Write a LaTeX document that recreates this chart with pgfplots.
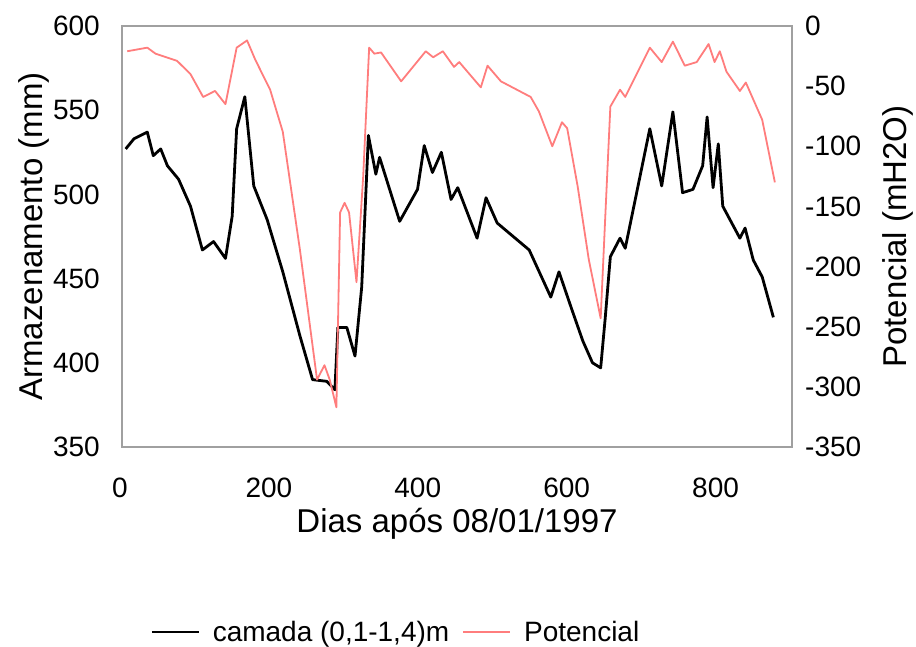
\documentclass[border=0pt]{standalone}
\usepackage{pgfplots}
\pgfplotsset{compat=1.18}
\usepackage{fontspec}
\setmainfont{Liberation Sans}
\definecolor{axgray}{RGB}{160,160,160}
\definecolor{potred}{RGB}{255,125,125}
\pgfplotstableread{
x y
5 527
16 533
34 537
42 523
52 527
61 517
76 509
92 493
108 467
123 472
139 462
148 487
154 539
165 558
177 505
195 485
216 454
239 416
256 390
275 389
286 384
290 421
302 421
313 404
322 445
331 535
341 512
346 522
373 484
397 503
406 529
417 513
429 525
442 497
451 504
477 474
489 498
504 483
547 467
576 439
587 454
604 432
619 413
632 400
643 397
649 426
656 463
669 474
676 468
709 539
725 505
740 549
753 501
767 503
780 517
786 546
794 504
801 530
807 493
830 474
837 480
848 461
860 451
875 427
}\storage
\pgfplotstableread{
x y
7 -21
34 -18
45 -23
74 -29
92 -40
109 -59
125 -54
139 -65
154 -18
168 -12
179 -28
199 -53
216 -88
239 -186
262 -294
272 -282
279 -294
288 -317
293 -155
299 -147
305 -155
315 -213
324 -125
332 -18
339 -23
348 -22
375 -46
408 -21
418 -26
431 -21
446 -34
453 -30
482 -51
491 -33
509 -46
549 -59
560 -71
578 -100
591 -80
598 -85
612 -133
627 -194
643 -243
649 -161
656 -67
669 -53
676 -59
709 -18
725 -30
740 -13
756 -33
772 -30
788 -15
796 -30
803 -21
812 -38
830 -54
838 -47
860 -78
877 -130
}\potential
\begin{document}
\begin{tikzpicture}[x=1pt,y=1pt]
\useasboundingbox (0,0) rectangle (916,646);
\pgfplotsset{
  common/.style={
    scale only axis, width=670pt, height=421pt,
    at={(122pt,199pt)}, anchor=south west,
    xmin=0, xmax=900,
    major tick length=0pt,
    /pgf/number format/assume math mode=true,
    tick label style={font=\fontsize{28}{32}\selectfont, inner sep=0pt},
    label style={font=\fontsize{33}{38}\selectfont, inner sep=0pt},
    axis line style={draw=axgray, line width=2.5pt},
  }
}
\begin{axis}[common,
  ymin=350, ymax=600, ytick={350,400,...,600},
  xtick={0,200,400,600,800},
  yticklabel style={anchor=east, xshift=-22pt},
  xticklabel style={anchor=north, yshift=-31pt, xshift=-2pt},
  xlabel={Dias após 08/01/1997},
  xlabel style={at={(axis description cs:0.5,-0.2019)}, anchor=base},
  ylabel={Armazenamento (mm)},
  ylabel style={at={(axis description cs:-0.118,0.5)}, anchor=base},
]
\addplot[black, line width=2.8pt, line join=round] table[x=x,y=y]{\storage};
\end{axis}
\begin{axis}[common,
  axis x line=none, axis y line*=right,
  ymin=-350, ymax=0, ytick={-350,-300,...,0},
  yticklabel style={anchor=west, xshift=13pt},
  ylabel={Potencial (mH2O)},
  ylabel style={at={(axis description cs:1.1716,0.5)}, anchor=base, rotate=0},
  legend columns=2,
  legend style={draw=none, fill=none, at={(axis description cs:0.409,-0.439)}, anchor=center,
    font=\fontsize{28}{32}\selectfont, inner sep=0pt, column sep=11pt},
  legend image code/.code={\draw[#1] (0pt,0pt) -- (47pt,0pt);},
]
\addlegendimage{black, line width=2pt}
\addlegendentry{camada (0,1-1,4)m}
\addplot[potred, line width=1.8pt, line join=round] table[x=x,y=y]{\potential};
\addlegendentry{Potencial}
\end{axis}
\end{tikzpicture}
\end{document}
